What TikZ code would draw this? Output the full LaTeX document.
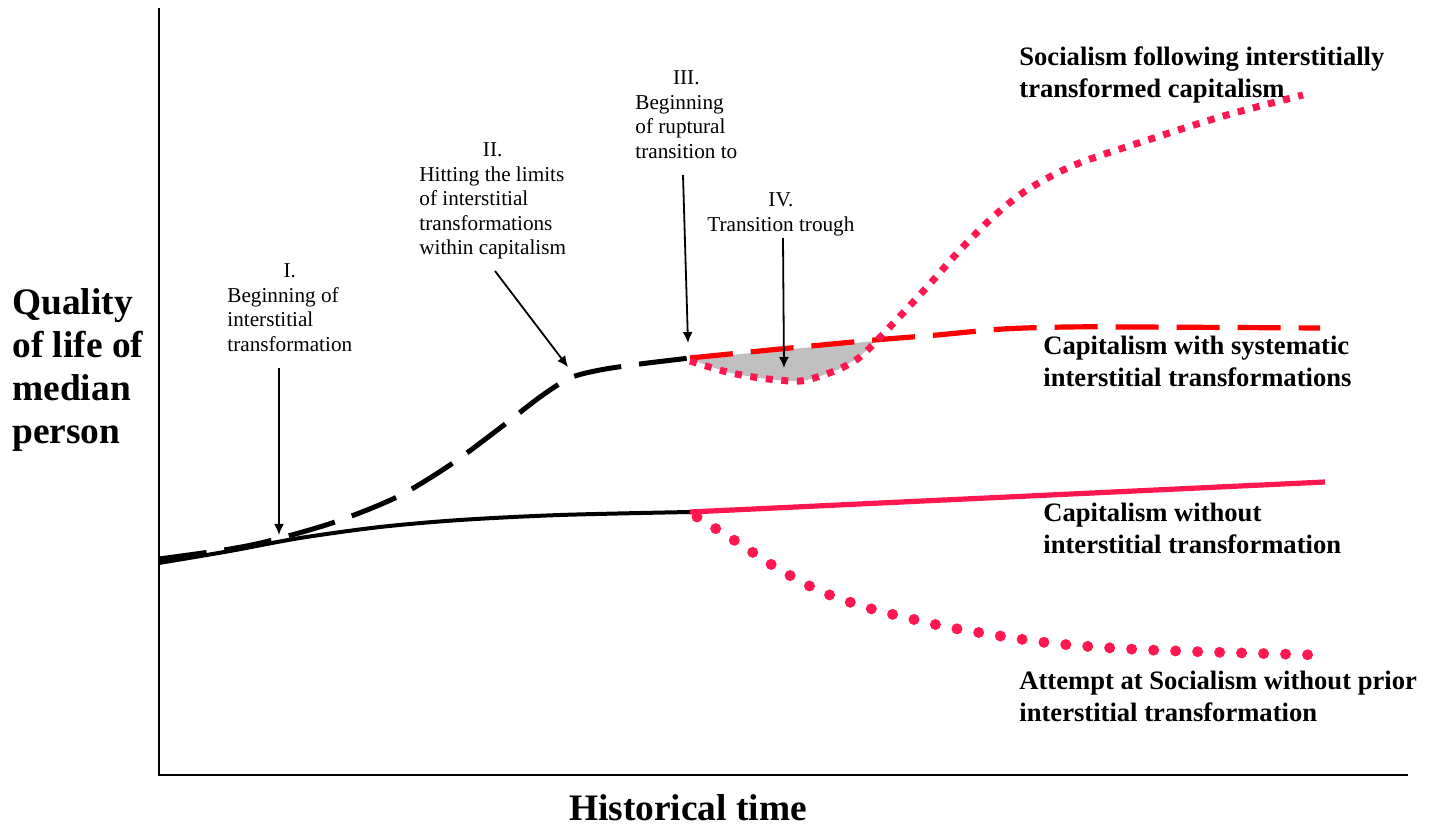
\documentclass[tikz,border=0pt]{standalone}
\usepackage{fontspec}
\setmainfont{Liberation Serif}
\usetikzlibrary{arrows.meta}
\definecolor{pinkred}{RGB}{255,23,80}
\definecolor{trough}{RGB}{192,192,192}
\newcommand{\lbl}[1]{\begin{tabular}[t]{@{}l@{}}#1\end{tabular}}
\newcommand{\num}[1]{\multicolumn{1}{@{}c@{}}{#1}}
\tikzset{
  small/.style={inner sep=0pt,anchor=base west,font=\fontsize{10.6}{12.25}\selectfont},
  curvelbl/.style={inner sep=0pt,anchor=base west,font=\fontsize{13.3}{16}\selectfont\bfseries},
  axislbl/.style={inner sep=0pt,font=\fontsize{18.7}{21.5}\selectfont\bfseries},
  arr/.style={-{Latex[length=5.5pt,width=5pt]},line width=0.9pt},
  blackdash/.style={line width=2.5pt,dash pattern=on 24pt off 9pt},
  reddash/.style={red,line width=2.6pt,dash pattern=on 21.5pt off 9pt},
  squaredot/.style={pinkred,line width=3.5pt,dash pattern=on 3.5pt off 4.3pt},
  rounddot/.style={pinkred,line width=5.5pt,line cap=round,dash pattern=on 0pt off 11pt}
}
\begin{document}
\begin{tikzpicture}[x=0.5pt,y=-0.5pt]
      \useasboundingbox (0,0) rectangle (1437,828);
      % axes
      \coordinate (top) at (159,8);
      \coordinate (origin) at (159,775);
      \coordinate (right) at (1408,775);
      \draw[line width=1pt] (top) -- (origin) -- (right);
      % trough
      \fill[trough] plot[smooth] coordinates {(690,359) (727,372) (760,378) (790,381) (807,380) (837,370) (860,356) (875,341)} -- cycle;
      % curves
      \draw[line width=2pt] plot[smooth] coordinates {(159,563) (230,551) (300,538) (380,527) (460,520) (560,515) (690,512)};
      \draw[blackdash] plot[smooth] coordinates {(159,559) (230,549) (273,540) (335,522) (397,497) (450,465) (500,428) (540,397) (570,378) (600,370) (640,364) (690,358)};
      \draw[reddash] plot[smooth] coordinates {(690,358) (780,349) (875,340) (937,335) (1003,329) (1067,327) (1133,327) (1320,328)};
      \draw[squaredot] plot[smooth] coordinates {(690,361) (727,372) (760,378) (790,381) (807,380) (837,370) (860,357) (887,330) (927,287) (960,250) (993,217) (1027,190) (1077,164) (1160,136) (1227,115) (1303,95)};
      \draw[pinkred,line width=2.6pt] (690,512) -- (1325,482);
      \draw[rounddot] plot[smooth] coordinates {(697,517) (737,542) (777,568) (820,591) (865,607) (912,619) (958,629) (1050,643) (1150,650) (1317,655)};
      % stage labels
      \draw
        (227,278) node[small] (I) {\lbl{\num{I.}\\Beginning of\\interstitial\\transformation}}
        (419,157) node[small] (II) {\lbl{\num{II.}\\Hitting the limits\\of interstitial\\transformations\\within capitalism}}
        (635,85) node[small] (III) {\lbl{\num{III.}\\Beginning\\of ruptural\\transition to}}
        (707,207) node[small] (IV) {\lbl{\num{IV.}\\Transition trough}};
      \coordinate (sI) at (279,368);
      \coordinate (tI) at (279,535);
      \coordinate (sII) at (495,271);
      \coordinate (tII) at (568,367);
      \coordinate (sIII) at (683,175);
      \coordinate (tIII) at (688,343);
      \coordinate (sIV) at (783,238);
      \coordinate (tIV) at (784,368);
      \begin{scope}[arr]
        \draw (sI) to (tI);
        \draw (sII) to (tII);
        \draw (sIII) to (tIII);
        \draw (sIV) to (tIV);
      \end{scope}
      % curve labels
      \draw
        (1019,66) node[curvelbl] (soc) {\lbl{Socialism following interstitially\\transformed capitalism}}
        (1043,355) node[curvelbl] (capsys) {\lbl{Capitalism with systematic\\interstitial transformations}}
        (1043,522) node[curvelbl] (capwo) {\lbl{Capitalism without\\interstitial transformation}}
        (1019,690) node[curvelbl] (attempt) {\lbl{Attempt at Socialism without prior\\interstitial transformation}};
      % axis labels
      \draw
        (12,315) node[axislbl,anchor=base west] (ylbl) {\lbl{Quality\\of life of\\median\\person}}
        (688,820) node[axislbl,anchor=base] (xlbl) {Historical time};
    \end{tikzpicture}
\end{document}
